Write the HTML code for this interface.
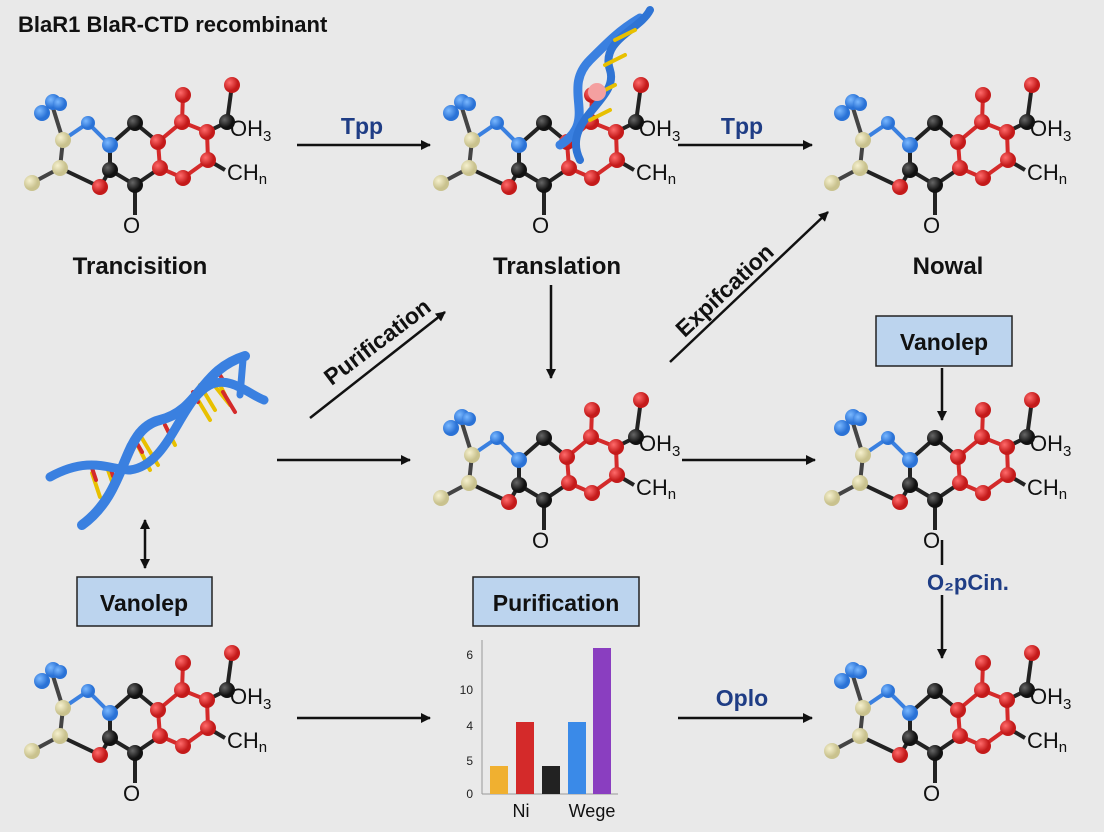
<!DOCTYPE html>
<html><head><meta charset="utf-8"><style>
body{margin:0;width:1104px;height:832px;background:#e9e9e9;overflow:hidden}
svg{display:block}
text{font-family:"Liberation Sans",sans-serif}
</style></head><body>
<svg width="1104" height="832" viewBox="0 0 1104 832">
<defs>
<marker id="ah" markerWidth="10" markerHeight="10" refX="9" refY="5" orient="auto" markerUnits="userSpaceOnUse"><path d="M0,0 L10,5 L0,10 z" fill="#111"/></marker>
<marker id="ah2" markerWidth="10" markerHeight="10" refX="9" refY="5" orient="auto-start-reverse" markerUnits="userSpaceOnUse"><path d="M0,0 L10,5 L0,10 z" fill="#111"/></marker>
<radialGradient id="gr" cx="35%" cy="35%"><stop offset="0" stop-color="#ff6b6b"/><stop offset="1" stop-color="#c41a1a"/></radialGradient>
<radialGradient id="gb" cx="35%" cy="35%"><stop offset="0" stop-color="#7ab8ff"/><stop offset="1" stop-color="#2a72d6"/></radialGradient>
<radialGradient id="gk" cx="35%" cy="35%"><stop offset="0" stop-color="#666"/><stop offset="1" stop-color="#111"/></radialGradient>
<radialGradient id="gy" cx="35%" cy="35%"><stop offset="0" stop-color="#f6f1cf"/><stop offset="1" stop-color="#c9c28e"/></radialGradient>
<g id="mol">
 <g stroke-width="4" fill="none">
  <path d="M53,108 L63,140 L60,168 L32,183" stroke="#444"/>
  <path d="M63,140 L88,123 L110,145" stroke="#3a80e0"/>
  <path d="M110,145 L135,123 L158,142 M110,145 L110,170 L135,185 L160,168 M110,170 L100,187 L60,168 M135,185 L135,215 M227,122 L232,85 M227,122 L207,132 M208,160 L225,170" stroke="#222"/>
  <path d="M158,142 L182,122 L207,132 L208,160 L183,178 L160,168 Z M158,142 L160,168 M182,122 L183,95" stroke="#d42a2a"/>
 </g>
 <circle cx="42" cy="113" r="8" fill="url(#gb)"/><circle cx="53" cy="102" r="8" fill="url(#gb)"/><circle cx="60" cy="104" r="7" fill="url(#gb)"/>
 <circle cx="63" cy="140" r="8" fill="url(#gy)"/><circle cx="60" cy="168" r="8" fill="url(#gy)"/><circle cx="32" cy="183" r="8" fill="url(#gy)"/>
 <circle cx="88" cy="123" r="7" fill="url(#gb)"/><circle cx="110" cy="145" r="8" fill="url(#gb)"/>
 <circle cx="135" cy="123" r="8" fill="url(#gk)"/><circle cx="110" cy="170" r="8" fill="url(#gk)"/><circle cx="135" cy="185" r="8" fill="url(#gk)"/>
 <circle cx="100" cy="187" r="8" fill="url(#gr)"/>
 <circle cx="158" cy="142" r="8" fill="url(#gr)"/><circle cx="182" cy="122" r="8" fill="url(#gr)"/><circle cx="207" cy="132" r="8" fill="url(#gr)"/><circle cx="208" cy="160" r="8" fill="url(#gr)"/><circle cx="183" cy="178" r="8" fill="url(#gr)"/><circle cx="160" cy="168" r="8" fill="url(#gr)"/>
 <circle cx="183" cy="95" r="8" fill="url(#gr)"/><circle cx="227" cy="122" r="8" fill="url(#gk)"/><circle cx="232" cy="85" r="8" fill="url(#gr)"/>
 <text x="123" y="233" font-size="22" fill="#111">O</text>
 <text x="230" y="136" font-size="22" fill="#111">OH<tspan font-size="15" dy="5">3</tspan></text>
 <text x="227" y="180" font-size="22" fill="#111">CH<tspan font-size="15" dy="4">n</tspan></text>
</g>
</defs>

<text x="18" y="32" font-size="22" font-weight="bold" fill="#111">BlaR1 BlaR-CTD recombinant</text>

<use href="#mol"/>
<use href="#mol" x="409"/>
<use href="#mol" x="800"/>
<use href="#mol" x="409" y="315"/>
<use href="#mol" x="800" y="315"/>
<use href="#mol" y="568"/>
<use href="#mol" x="800" y="568"/>

<g fill="none" stroke-linecap="round">
 <path d="M560,145 C600,120 560,90 590,60 C610,40 620,30 640,18" stroke="#3a80e0" stroke-width="9"/>
 <path d="M580,160 C560,120 620,100 610,70 C600,40 640,30 650,10" stroke="#2f74d4" stroke-width="8"/>
 <path d="M590,120 L610,110 M595,95 L615,85 M605,65 L625,55 M615,40 L635,30" stroke="#e8c000" stroke-width="4"/>
</g>
<circle cx="597" cy="92" r="9" fill="#f4a0a0"/>

<text x="140" y="274" font-size="24" font-weight="bold" fill="#111" text-anchor="middle">Trancisition</text>
<text x="557" y="274" font-size="24" font-weight="bold" fill="#111" text-anchor="middle">Translation</text>
<text x="948" y="274" font-size="24" font-weight="bold" fill="#111" text-anchor="middle">Nowal</text>

<g stroke="#111" stroke-width="2.5" fill="none">
 <line x1="297" y1="145" x2="430" y2="145" marker-end="url(#ah)"/>
 <line x1="678" y1="145" x2="812" y2="145" marker-end="url(#ah)"/>
 <line x1="310" y1="418" x2="445" y2="312" marker-end="url(#ah)"/>
 <line x1="670" y1="362" x2="828" y2="212" marker-end="url(#ah)"/>
 <line x1="551" y1="285" x2="551" y2="378" marker-end="url(#ah)"/>
 <line x1="277" y1="460" x2="410" y2="460" marker-end="url(#ah)"/>
 <line x1="682" y1="460" x2="815" y2="460" marker-end="url(#ah)"/>
 <line x1="145" y1="520" x2="145" y2="568" marker-start="url(#ah2)" marker-end="url(#ah2)"/>
 <line x1="942" y1="368" x2="942" y2="420" marker-end="url(#ah)"/>
 <line x1="942" y1="540" x2="942" y2="658" marker-end="url(#ah)"/>
 <line x1="297" y1="718" x2="430" y2="718" marker-end="url(#ah)"/>
 <line x1="678" y1="718" x2="812" y2="718" marker-end="url(#ah)"/>
</g>
<rect x="925" y="565" width="110" height="30" fill="#e9e9e9"/>
<text x="362" y="134" font-size="23" font-weight="bold" fill="#1f3d85" text-anchor="middle">Tpp</text>
<text x="742" y="134" font-size="23" font-weight="bold" fill="#1f3d85" text-anchor="middle">Tpp</text>
<text x="742" y="706" font-size="23" font-weight="bold" fill="#1f3d85" text-anchor="middle">Oplo</text>
<text x="968" y="590" font-size="22" font-weight="bold" fill="#1f3d85" text-anchor="middle">O₂pCin.</text>
<text transform="translate(382,348) rotate(-37)" font-size="23" font-weight="bold" fill="#111" text-anchor="middle">Purification</text>
<text transform="translate(730,296) rotate(-43)" font-size="23" font-weight="bold" fill="#111" text-anchor="middle">Expifcation</text>

<g fill="none" stroke-linecap="round">
 <g stroke-width="4">
  <path d="M92,473 L100,497 M108,470 L115,490 M135,440 L150,470 M140,435 L158,465 M165,425 L175,445 M195,395 L210,420 M200,385 L215,410 M210,380 L230,405 M220,385 L225,395" stroke="#e8c000"/>
  <path d="M92,468 L96,480 M110,466 L113,476 M135,440 L142,452 M165,425 L170,435 M193,392 L198,402 M220,375 L226,385 M223,392 L235,412" stroke="#d42a2a"/>
 </g>
 <path d="M82,525 C130,490 120,430 160,420 C200,410 200,370 245,356" stroke="#3a80e0" stroke-width="10"/>
 <path d="M50,477 C90,455 110,470 130,470 C170,465 180,400 210,385 C230,375 250,395 264,400" stroke="#3a80e0" stroke-width="9"/>
 <path d="M243,360 L240,395" stroke="#3a80e0" stroke-width="7"/>
</g>

<g stroke="#222" stroke-width="1.5" fill="#bcd4ee">
 <rect x="876" y="316" width="136" height="50"/>
 <rect x="77" y="577" width="135" height="49"/>
 <rect x="473" y="577" width="166" height="49"/>
</g>
<text x="944" y="350" font-size="23" font-weight="bold" fill="#111" text-anchor="middle">Vanolep</text>
<text x="144" y="611" font-size="23" font-weight="bold" fill="#111" text-anchor="middle">Vanolep</text>
<text x="556" y="611" font-size="23" font-weight="bold" fill="#111" text-anchor="middle">Purification</text>

<line x1="482" y1="640" x2="482" y2="794" stroke="#999" stroke-width="1"/>
<line x1="482" y1="794" x2="618" y2="794" stroke="#999" stroke-width="1"/>
<g font-size="12" fill="#222" text-anchor="end">
 <text x="473" y="659">6</text><text x="473" y="694">10</text><text x="473" y="730">4</text><text x="473" y="765">5</text><text x="473" y="798">0</text>
</g>
<rect x="490" y="766" width="18" height="28" fill="#f0b030"/>
<rect x="516" y="722" width="18" height="72" fill="#d42a2a"/>
<rect x="542" y="766" width="18" height="28" fill="#222"/>
<rect x="568" y="722" width="18" height="72" fill="#3a8ae8"/>
<rect x="593" y="648" width="18" height="146" fill="#8a3ec0"/>
<text x="521" y="817" font-size="18" fill="#111" text-anchor="middle">Ni</text>
<text x="592" y="817" font-size="18" fill="#111" text-anchor="middle">Wege</text>
</svg>
</body></html>
